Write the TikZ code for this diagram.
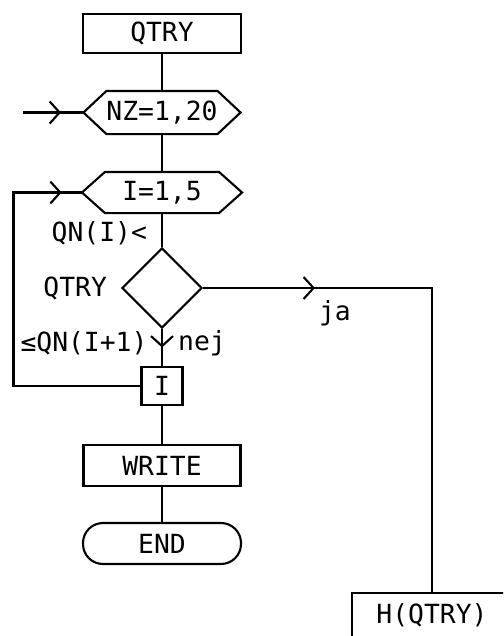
\documentclass[tikz,border=0pt]{standalone}
\usepackage{fontspec}
\setmainfont{DejaVu Sans Mono}
\usetikzlibrary{arrows.meta,positioning,shapes.geometric,decorations.markings}
% hexagonal loop symbol round a plain node
\newcommand\hexframe[1]{%
  \draw ([xshift=0.46cm]#1.north west) -- ([xshift=-0.46cm]#1.north east) -- (#1.east)
     -- ([xshift=-0.46cm]#1.south east) -- ([xshift=0.46cm]#1.south west) -- (#1.west) -- cycle;}

\begin{document}
\begin{tikzpicture}[line width=1.2pt,font=\fontsize{15}{18}\selectfont,
  box/.style={draw,rectangle,inner sep=0pt,minimum height=0.8cm},
  hexbox/.style={rectangle,inner sep=0pt,minimum width=3.12cm,minimum height=0.8cm},
  decision/.style={draw,diamond,aspect=1,inner sep=0pt,minimum size=1.6cm},
  term/.style={draw,rectangle,rounded corners=0.4cm,inner sep=0pt,
               minimum width=3.16cm,minimum height=0.82cm},
  lbl/.style={inner sep=0pt},
  midarrow/.style={postaction={decorate},decoration={markings,
      mark=at position #1 with {\arrow{Straight Barb[length=0.2cm,width=0.44cm]}}}}]
  \useasboundingbox (0,0) rectangle (10.06,-12.72);
  \clip (0,0) rectangle (10.06,-12.72);

  % Entry of the routine
  \node[box,minimum width=3.16cm,minimum height=0.78cm] (qtry) at (3.24,-0.67) {QTRY};
  % Outer loop over NZ
  \node[hexbox,minimum width=3.1cm,minimum height=0.82cm] (nz) at (3.24,-2.25) {NZ=1,20};
  \hexframe{nz}
  \coordinate (nzin) at (0.46,-2.25);
  % Inner loop over I
  \node[hexbox,minimum width=3.16cm,minimum height=0.78cm] (iloop) at (3.24,-3.85) {I=1,5};
  \hexframe{iloop}
  % Test: QN(I) < QTRY <= QN(I+1)
  \node[decision] (test) at (3.24,-5.76) {};
  \node[lbl,anchor=east] (ltop) at (2.96,-4.66) {QN(I)<};
  \node[lbl,left=0.26cm of test] (lmid) {QTRY};
  \node[lbl] (lbot) at (1.68,-6.86) {≤QN(I+1)};
  \node[lbl] (nej) at (4.04,-6.86) {nej};
  \node[lbl] (ja) at (6.7,-6.26) {ja};
  % End of inner loop, output, stop
  \node[box,minimum width=0.82cm,minimum height=0.76cm] (iend) at (3.24,-7.72) {I};
  \node[box,minimum width=3.14cm,minimum height=0.82cm] (write) at (3.24,-9.31) {WRITE};
  \node[term] (end) at (3.24,-10.87) {END};
  % Branch target
  \node[box,minimum width=3.2cm,inner sep=0.2cm,text height=0.4cm,text depth=0.55cm,
        anchor=north] (hq) at (8.64,-11.84) {H(QTRY)};

  % Flow lines
  \draw (qtry) -- (nz);
  \draw[midarrow=0.63] (nzin) -- (nz.west);
  \draw (nz) -- (iloop);
  \draw (iloop) -- (test);
  \draw[midarrow=0.5] (test) -- (iend);
  \draw[midarrow=0.948] (iend.west) -- ++(-2.54,0) |- (iloop.west);
  \draw[midarrow=0.21] (test.east) -| (hq.north);
  \draw (iend) -- (write);
  \draw (write) -- (end);
\end{tikzpicture}
\end{document}
